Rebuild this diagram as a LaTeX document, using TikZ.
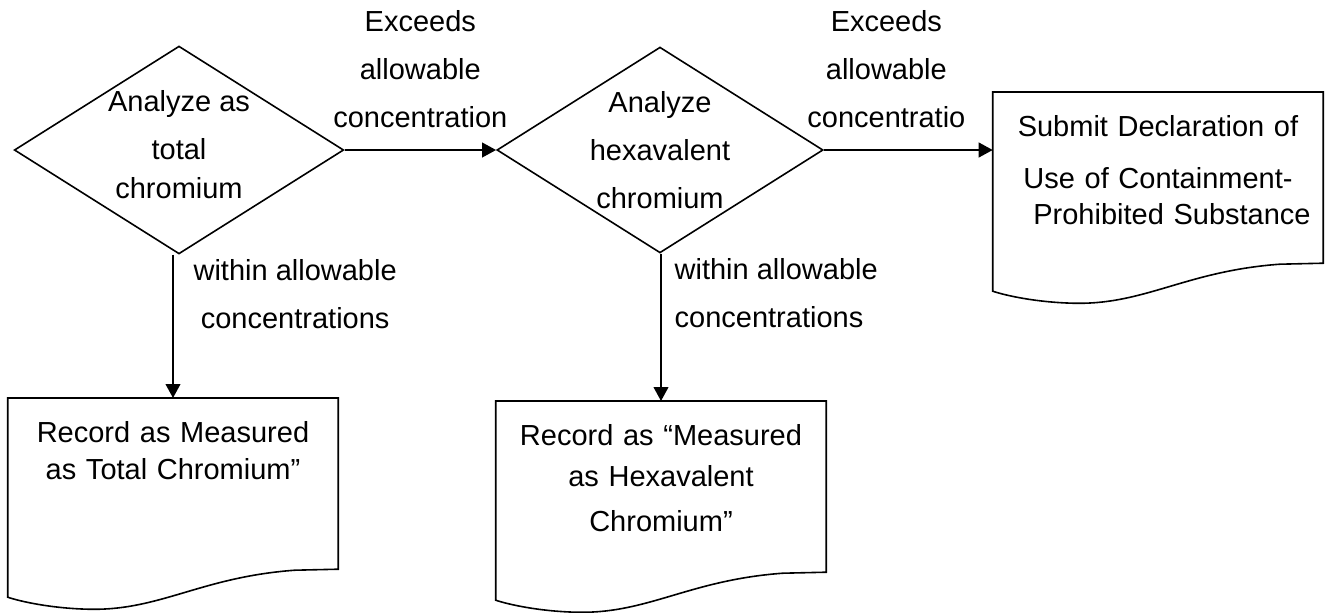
\documentclass[tikz,border=0pt]{standalone}
\usepackage{fontspec}
\setmainfont{Liberation Sans}
\usepackage{tikz}
\usetikzlibrary{positioning,arrows.meta,shapes.geometric,calc}
\newcommand{\flowfont}{\fontsize{21.75pt}{36pt}\selectfont}

\begin{document}
\begin{tikzpicture}[
  x=0.75pt,y=-0.75pt,
  decision/.style={diamond,draw=black,line width=1.2pt,aspect=1.585,inner sep=0pt,
        font=\flowfont,minimum width=243.75pt,minimum height=153.75pt,align=center},
  docbox/.style={rectangle,inner sep=0pt,anchor=north,font=\flowfont,text width=247.5pt,
        align=center,text height=33pt,text depth=95pt},
  docline/.style={line width=1.2pt},
  lbl/.style={inner sep=0pt,font=\flowfont,align=center},
  arrow/.style={-{Triangle[length=10.5pt,width=11pt]},line width=1.5pt}
]
\useasboundingbox (0,0) rectangle (1328,612);
\node[decision,text depth=8pt] (totchk) at (179,150) {Analyze as\\total\\[-7pt]chromium};
\node[decision] (hexchk) at (660,150) {Analyze\\hexavalent\\chromium};
\node[docbox] (totrec) at (173,398) {Record as Measured\\[-8.25pt]as Total Chromium”};
\node[docbox] (hexrec) at (661,401) {Record as “Measured\\[-5.25pt]as Hexavalent\\[-2.25pt]Chromium”};
\node[docbox] (decl) at (1158,92) {Submit Declaration of\\[3pt]Use of Containment-\\[-9pt]\hspace*{21pt}Prohibited Substance};
% document outlines with wavy bottom
\foreach \d in {totrec,hexrec,decl}
  \draw[docline] (\d.south east) -- (\d.north east) -- (\d.north west) -- ($(\d.south west)+(0,28)$)
    .. controls ($(\d.south west)+(12,32)$) and ($(\d.south west)+(42,39)$) .. ($(\d.south west)+(80,40)$)
    .. controls ($(\d.south west)+(152,42)$) and ($(\d.south west)+(192,8)$) .. ($(\d.south west)+(287,1)$)
    -- cycle;
\draw[arrow] (totchk) -- node[lbl,above=16pt] {Exceeds\\allowable\\concentration} (hexchk);
\draw[arrow] (hexchk.east) -- node[lbl,above=16pt,pos=0.37] {Exceeds\\allowable\\concentratio} (hexchk.east -| decl.west);
\draw[arrow] (totchk.south -| totrec.north) -- node[lbl,anchor=north west,pos=0,xshift=14.7pt,yshift=-2.7pt] {within allowable\\concentrations} (totrec.north);
\draw[arrow] (hexchk.south -| hexrec.north) -- node[lbl,align=left,anchor=north west,pos=0,xshift=9.5pt,yshift=-2.7pt] {within allowable\\concentrations} (hexrec.north);
\end{tikzpicture}
\end{document}
